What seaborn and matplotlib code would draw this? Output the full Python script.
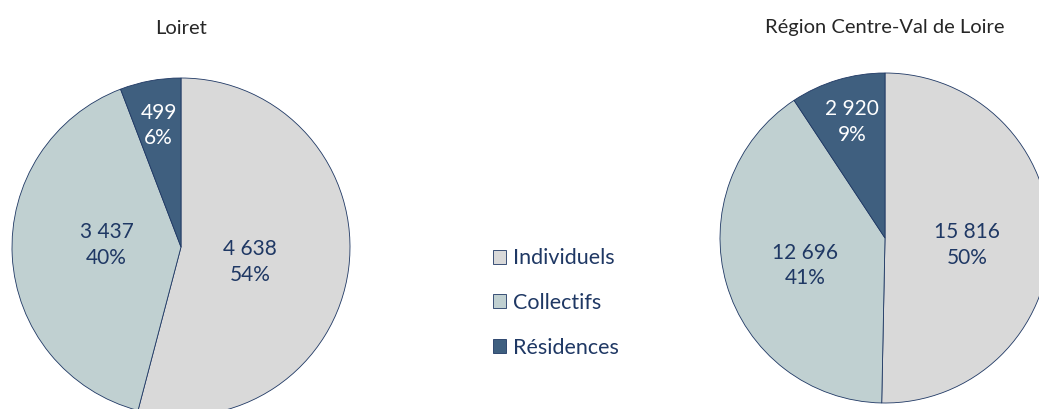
import matplotlib
matplotlib.use("Agg")
import matplotlib.pyplot as plt
import seaborn as sns
import numpy as np

# données
categories = ['Individuels', 'Collectifs', 'Résidences']
loiret_values = [4638, 3437, 499]
loiret_pct = ['54%', '40%', '6%']
region_values = [15816, 12696, 2920]
region_pct = ['50%', '41%', '9%']
titles = ['Loiret', 'Région Centre-Val de Loire']

colors = ['#D9D9D9', '#C0D0D1', '#3F5F7F']
text_colors = ['#1F3864', '#1F3864', 'white']
edge_color = '#1F3864'

sns.set_theme(style='white')
plt.rcParams['font.family'] = ['Lato', 'DejaVu Sans']

W, H = 1039, 409
fig = plt.figure(figsize=(W / 100, H / 100), dpi=100)


def fmt(v):
    return f"{v:,}".replace(",", " ")


def draw_pie(cx, cy, r, values, pcts, label_r, label_da, title):
    ax = fig.add_axes([(cx - r) / W, (H - cy - r) / H, 2 * r / W, 2 * r / H])
    wedges, _ = ax.pie(values, colors=colors, startangle=90, counterclock=False,
                       wedgeprops=dict(edgecolor=edge_color, linewidth=0.6))
    ax.set_xlim(-1, 1)
    ax.set_ylim(-1, 1)
    ax.set_aspect('equal')
    for w, v, p, lr, da, tc in zip(wedges, values, pcts, label_r, label_da, text_colors):
        ang = np.deg2rad((w.theta1 + w.theta2) / 2 + da)
        ax.text(lr * np.cos(ang), lr * np.sin(ang), f"{fmt(v)}\n{p}",
                ha='center', va='center', fontsize=15, color=tc, linespacing=1.35)
    fig.text(cx / W, 1 - 28 / H, title, ha='center', va='center',
             fontsize=14.5, color='#262626')
    return wedges


wedges = draw_pie(181, 247, 169, loiret_values, loiret_pct,
                  [0.42, 0.44, 0.73], [-5, -4.6, 0], titles[0])
draw_pie(885, 238, 165, region_values, region_pct,
         [0.50, 0.51, 0.73], [-4.2, 2.8, -0.8], titles[1])

leg = fig.legend(wedges, categories, loc='center left',
                 bbox_to_anchor=(482 / W, 1 - 303 / H), frameon=False,
                 fontsize=15.5, handlelength=0.62, handleheight=0.62,
                 handletextpad=0.3, labelspacing=1.15, borderpad=0)
for t in leg.get_texts():
    t.set_color('#1F3864')

fig.savefig('out.png', dpi=100)
